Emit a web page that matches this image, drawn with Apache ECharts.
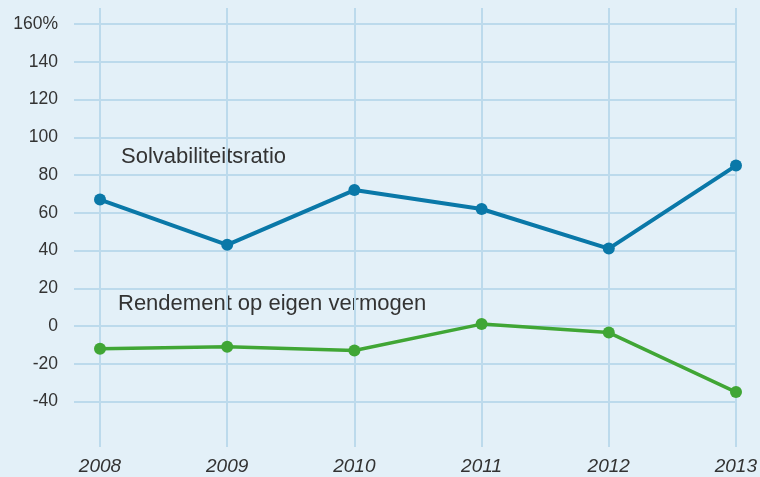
<!DOCTYPE html>
<html>
<head>
<meta charset="utf-8">
<script src="https://cdn.jsdelivr.net/npm/echarts@6/dist/echarts.min.js"></script>
<style>
html,body{margin:0;padding:0;background:#e3f0f8;}
#chart{width:760px;height:477px;}
</style>
</head>
<body>
<div id="chart"></div>
<script>
const years = ['2008', '2009', '2010', '2011', '2012', '2013'];
const solvabiliteit = [67, 43, 72, 62, 41, 85];
const rendement = [-12, -11, -13, 1, -3.5, -35];
const seriesNames = ['Solvabiliteitsratio', 'Rendement op eigen vermogen'];
const yTicks = [-40, -20, 0, 20, 40, 60, 80, 100, 120, 140, 160];

const gridColor = '#bcdaec';
const textColor = '#333333';
const fontFam = '"Liberation Sans", Arial, sans-serif';

const chart = echarts.init(document.getElementById('chart'), null, {renderer: 'canvas'});
chart.setOption({
  backgroundColor: '#e3f0f8',
  animation: false,
  textStyle: {fontFamily: fontFam},
  grid: [
    {left: 100, right: 24, top: 24, bottom: 37.75},   // data
    {left: 74, right: 24, top: 24, bottom: 75.5},     // horizontal lines + y labels
    {left: 100, right: 24, top: 8, bottom: 30}        // vertical lines + x labels
  ],
  xAxis: [
    {gridIndex: 0, type: 'category', data: years, boundaryGap: false, show: false},
    {gridIndex: 1, type: 'value', min: 0, max: 1, show: false},
    {gridIndex: 2, type: 'category', data: years, boundaryGap: false,
      axisLine: {show: false}, axisTick: {show: false},
      splitLine: {show: true, interval: 0, lineStyle: {color: gridColor, width: 2}},
      axisLabel: {interval: 0, margin: 10, fontSize: 19, fontStyle: 'italic', color: textColor, fontFamily: fontFam}
    }
  ],
  yAxis: [
    {gridIndex: 0, type: 'value', min: -60, max: 160, interval: 20, show: false},
    {gridIndex: 1, type: 'value', min: yTicks[0], max: yTicks[yTicks.length - 1], interval: 20,
      axisLine: {show: false}, axisTick: {show: false},
      splitLine: {show: true, lineStyle: {color: gridColor, width: 2}},
      axisLabel: {margin: 16, fontSize: 17.5, color: textColor, fontFamily: fontFam,
        formatter: v => v === 160 ? '160%' : String(v)}
    },
    {gridIndex: 2, type: 'value', min: 0, max: 1, show: false}
  ],
  series: [
    {
      name: seriesNames[0], type: 'line', xAxisIndex: 0, yAxisIndex: 0,
      data: solvabiliteit, symbol: 'circle', symbolSize: 12,
      lineStyle: {color: '#0a78a8', width: 4},
      itemStyle: {color: '#0a78a8'}, z: 5
    },
    {
      name: seriesNames[1], type: 'line', xAxisIndex: 0, yAxisIndex: 0,
      data: rendement, symbol: 'circle', symbolSize: 12,
      lineStyle: {color: '#40a635', width: 3.5},
      itemStyle: {color: '#40a635'}, z: 5
    }
  ],
  graphic: [
    {type: 'text', left: 121, top: 146, style: {text: seriesNames[0], font: '22px ' + fontFam, fill: textColor}},
    {type: 'text', left: 118, top: 293, style: {text: seriesNames[1], font: '22px ' + fontFam, fill: textColor}}
  ]
});
</script>
</body>
</html>
